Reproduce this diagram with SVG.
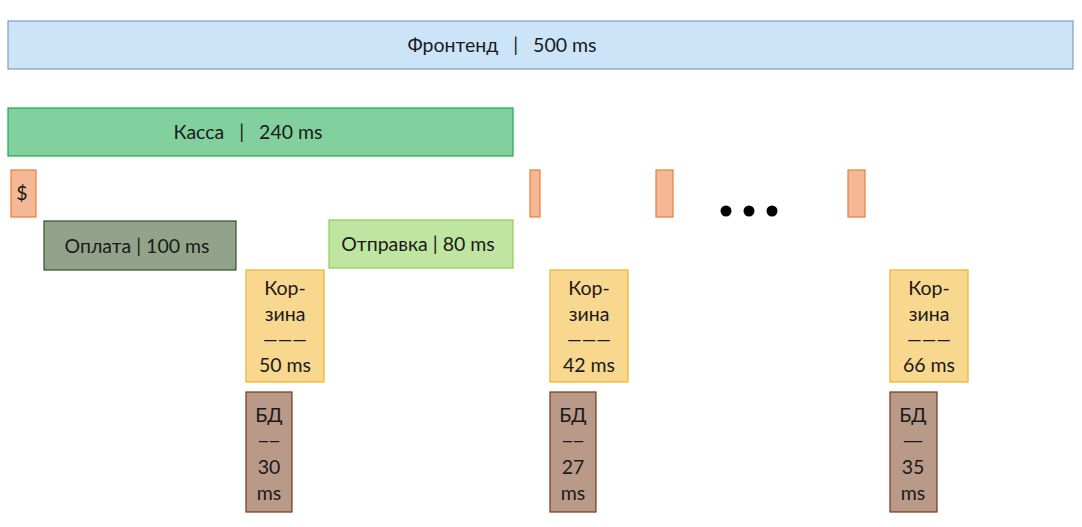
<svg xmlns="http://www.w3.org/2000/svg" width="1082" height="527" viewBox="0 0 1082 527">
<style>
text{font-family:Lato,"Open Sans","Liberation Sans",sans-serif;font-size:19.5px;fill:#1a1a1a;text-anchor:middle;white-space:pre}
.fe{fill:#cce4f8;stroke:#7d9dc8;stroke-width:1.2}
.ka{fill:#82d09e;stroke:#1aab4c;stroke-width:1.2}
.sp{fill:#f4b896;stroke:#ed7d31;stroke-width:1.2}
.op{fill:#93a38a;stroke:#34502a;stroke-width:1.2}
.ot{fill:#c0e5a0;stroke:#8ccf55;stroke-width:1.2}
.ko{fill:#f8d78e;stroke:#f0b323;stroke-width:1.2}
.bd{fill:#b99a88;stroke:#7a3518;stroke-width:1.2}
.dash{stroke:#1a1a1a;stroke-width:1.3}
</style>
<rect width="1082" height="527" fill="#ffffff"/>
<g id="frontend"><rect class="fe" x="8" y="21" width="1065" height="48"/><text x="502" y="52">Фронтенд   |   500 ms</text></g>
<g id="kassa"><rect class="ka" x="8" y="108" width="505" height="48"/><text x="248" y="139">Касса   |   240 ms</text></g>
<g id="span-dollar"><rect class="sp" x="11" y="170" width="25" height="47"/><text x="22" y="200">$</text></g>
<g id="span-2"><rect class="sp" x="530" y="170" width="10" height="47"/></g>
<g id="span-3"><rect class="sp" x="656" y="170" width="17" height="47"/></g>
<g id="span-4"><rect class="sp" x="848" y="170" width="17" height="47"/></g>
<g id="ellipsis"><circle cx="726" cy="211" r="5.5" fill="#000"/><circle cx="749" cy="211" r="5.5" fill="#000"/><circle cx="772" cy="211" r="5.5" fill="#000"/></g>
<g id="oplata"><rect class="op" x="44" y="221" width="192" height="49"/><text x="137" y="253">Оплата | 100 ms</text></g>
<g id="otpravka"><rect class="ot" x="329" y="220" width="184" height="48"/><text x="418" y="251">Отправка | 80 ms</text></g>
<g id="korzina-1"><rect class="ko" x="246" y="270" width="78" height="112"/><text x="285" y="295">Кор-</text><text x="285" y="321">зина</text><text x="285" y="346" textLength="44" lengthAdjust="spacingAndGlyphs">———</text><text x="285" y="372">50 ms</text></g>
<g id="korzina-2"><rect class="ko" x="550" y="270" width="78" height="112"/><text x="589" y="295">Кор-</text><text x="589" y="321">зина</text><text x="589" y="346" textLength="44" lengthAdjust="spacingAndGlyphs">———</text><text x="589" y="372">42 ms</text></g>
<g id="korzina-3"><rect class="ko" x="890" y="270" width="78" height="112"/><text x="929" y="295">Кор-</text><text x="929" y="321">зина</text><text x="929" y="346" textLength="44" lengthAdjust="spacingAndGlyphs">———</text><text x="929" y="372">66 ms</text></g>
<g id="bd-1"><rect class="bd" x="246" y="392" width="46" height="120"/><text x="269" y="422">БД</text><text x="269" y="447" textLength="22" lengthAdjust="spacingAndGlyphs">——</text><text x="269" y="474">30</text><text x="269" y="500">ms</text></g>
<g id="bd-2"><rect class="bd" x="550" y="392" width="46" height="120"/><text x="573" y="422">БД</text><text x="573" y="447" textLength="22" lengthAdjust="spacingAndGlyphs">——</text><text x="573" y="474">27</text><text x="573" y="500">ms</text></g>
<g id="bd-3"><rect class="bd" x="890" y="392" width="47" height="120"/><text x="913" y="422">БД</text><text x="913" y="447" textLength="22" lengthAdjust="spacingAndGlyphs">—</text><text x="913" y="474">35</text><text x="913" y="500">ms</text></g>
<g id="connectors"/>
</svg>
